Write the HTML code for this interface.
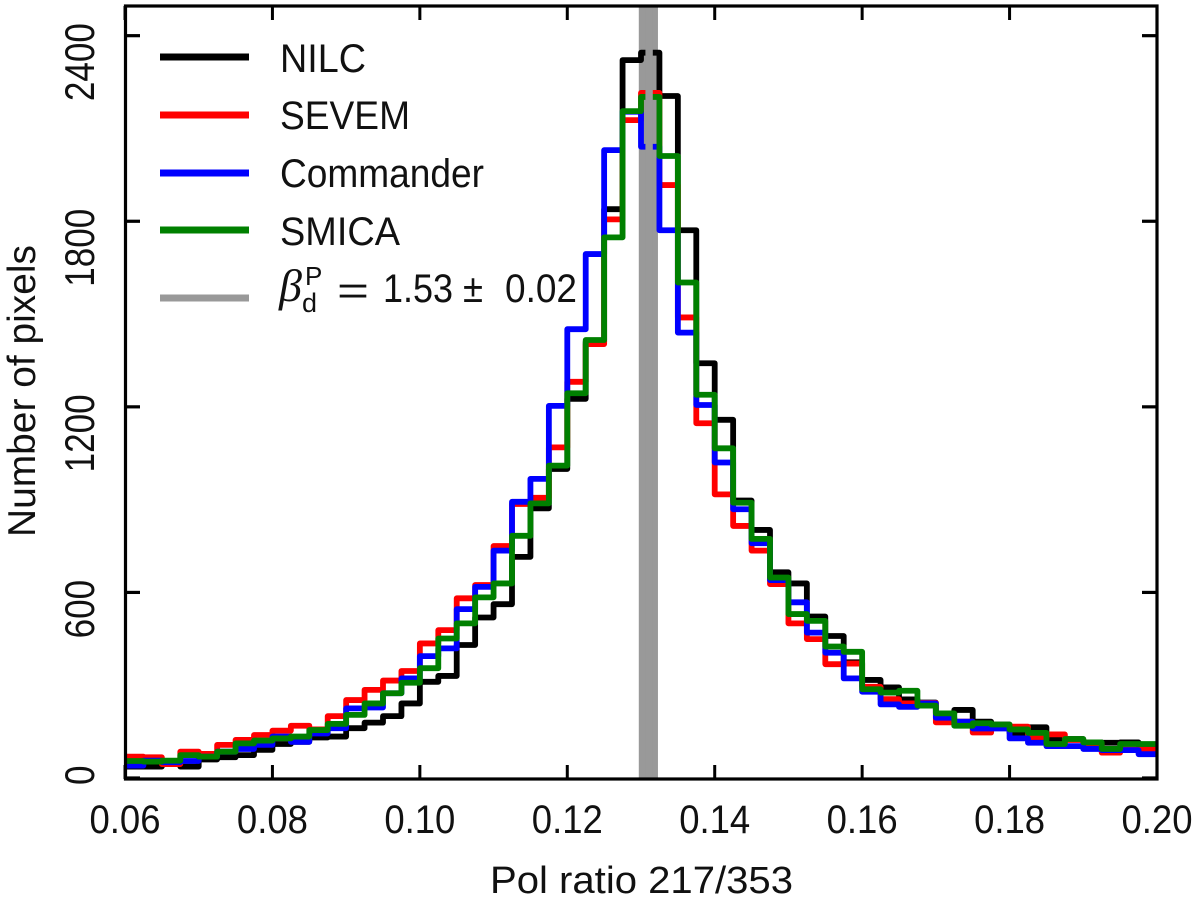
<!DOCTYPE html>
<html lang="en">
<head>
<meta charset="utf-8">
<title>Pol ratio 217/353 histogram</title>
<style>
  html, body { margin: 0; padding: 0; background: #fff; }
  body { width: 1200px; height: 910px; overflow: hidden; }
  svg { display: block; }
  text { font-family: "Liberation Sans", sans-serif; fill: #111; }
</style>
</head>
<body>
<svg id="chart" xmlns="http://www.w3.org/2000/svg" width="1200" height="910" viewBox="0 0 1200 910">
  <defs>
    <clipPath id="plot-clip"><rect x="125" y="6" width="1032" height="773"></rect></clipPath>
  </defs>
  <g id="band-back"></g>
  <g id="series" clip-path="url(#plot-clip)"></g>
  <g id="band-front"></g>
  <g id="axes"></g>
  <text x="490" y="893" font-size="38" textLength="303" lengthAdjust="spacingAndGlyphs">Pol ratio 217/353</text>
  <text transform="translate(35,537) rotate(-90)" font-size="39" textLength="292" lengthAdjust="spacingAndGlyphs">Number of pixels</text>
  <g id="legend"></g>
  <g>
    <text x="279" y="301" font-size="46" font-style="italic" style="font-family:'Liberation Serif',serif">β</text>
    <text x="305" y="285" font-size="26">P</text>
    <text x="302" y="312" font-size="27">d</text>
    <text x="337" y="304" font-size="40" textLength="32" lengthAdjust="spacingAndGlyphs">=</text>
    <text x="383" y="302" font-size="40" textLength="70" lengthAdjust="spacingAndGlyphs">1.53</text>
    <text x="463" y="302" font-size="40" textLength="20" lengthAdjust="spacingAndGlyphs">±</text>
    <text x="505" y="302" font-size="40" textLength="72" lengthAdjust="spacingAndGlyphs">0.02</text>
  </g>
</svg>
<script>
const binStart = 0.06;
const binWidth = 0.0025;
const xTicks = [0.06, 0.08, 0.10, 0.12, 0.14, 0.16, 0.18, 0.20];
const xTickLabels = ['0.06', '0.08', '0.10', '0.12', '0.14', '0.16', '0.18', '0.20'];
const yTicks = [0, 600, 1200, 1800, 2400];
const yTickLabels = ['0', '600', '1200', '1800', '2400'];
const bandOuter = [0.1297, 0.1323];
const bandInner = [0.1306, 0.1316];
const nilc = [37,37,45,37,60,67,74,91,110,117,131,134,161,179,200,241,311,330,430,519,562,715,872,999,1226,1410,1839,2321,2345,2205,1771,1341,1158,897,802,665,629,522,459,374,317,293,254,244,209,220,182,173,146,164,123,126,115,114,115,106];
const sevem = [69,67,45,85,78,107,123,139,153,169,157,200,252,285,315,346,435,478,581,624,750,886,906,1069,1281,1403,1806,2127,2215,1917,1489,1147,917,815,735,627,500,449,368,370,295,255,241,243,180,182,147,166,166,130,141,123,110,82,92,92];
const commander = [40,56,51,55,69,85,94,107,134,117,144,161,225,228,274,322,394,419,546,618,735,893,967,1203,1451,1694,2030,2154,2041,1771,1440,1206,1020,869,759,640,568,470,405,322,279,238,230,241,195,182,160,160,128,114,103,103,94,90,90,77];
const smica = [55,53,56,74,69,85,112,121,128,134,155,175,204,241,274,308,355,451,500,584,629,783,888,1010,1244,1416,1748,2156,2202,2011,1602,1239,1066,890,773,648,530,508,425,408,287,276,282,234,209,169,177,173,157,146,110,126,115,94,110,110];
const seriesNames = ['NILC', 'SEVEM', 'Commander', 'SMICA'];
const seriesColors = ['#000000', '#ff0000', '#0000ff', '#008000'];
const seriesValues = [nilc, sevem, commander, smica];
const legendBandLabel = 'beta';

const NS = 'http://www.w3.org/2000/svg';
const xScale = function (v) { return 125 + (v - 0.06) * (1032 / 0.14); };
const yScale = function (v) { return 778 - v * 0.3093; };

function make(tag, parent, attrs) {
  const el = document.createElementNS(NS, tag);
  for (const k in attrs) { el.setAttribute(k, attrs[k]); }
  parent.appendChild(el);
  return el;
}

const bandBack = document.getElementById('band-back');
const outerRect = make('rect', bandBack, { x: xScale(bandOuter[0]), y: 6, width: xScale(bandOuter[1]) - xScale(bandOuter[0]), height: 773, fill: '#999999' });



const bandFront = document.getElementById('band-front');
const innerRect = make('rect', bandFront, { x: xScale(bandInner[0]), y: 6, width: xScale(bandInner[1]) - xScale(bandInner[0]), height: 773, fill: '#999999' });



const seriesGroup = document.getElementById('series');
seriesValues.forEach(function (vals, s) {
  let d = '';
  vals.forEach(function (v, i) {
    const x0 = xScale(binStart + i * binWidth);
    const x1 = xScale(binStart + (i + 1) * binWidth);
    const y = yScale(v);
    d += (i === 0 ? 'M' : 'L') + x0.toFixed(2) + ' ' + y.toFixed(2) + 'L' + x1.toFixed(2) + ' ' + y.toFixed(2);
  });
  const line = make('path', seriesGroup, { d: d, fill: 'none', stroke: seriesColors[s], 'stroke-width': 5.8, 'stroke-linejoin': 'round', 'stroke-linecap': 'butt' });
  
  
});

const axes = document.getElementById('axes');
const frame = make('rect', axes, { x: 125.5, y: 6, width: 1031.5, height: 773, fill: 'none', stroke: '#000', 'stroke-width': 3.2 });



xTicks.forEach(function (t, i) {
  const x = xScale(t);
  const bottomTick = make('line', axes, { x1: x, x2: x, y1: 779, y2: 765, stroke: '#000', 'stroke-width': 3 });
  
  
  const topTick = make('line', axes, { x1: x, x2: x, y1: 6, y2: 20, stroke: '#000', 'stroke-width': 3 });
  
  
  const label = make('text', axes, { x: x, y: 833, 'font-size': 40, 'text-anchor': 'middle', textLength: 71, lengthAdjust: 'spacingAndGlyphs' });
  
  
  label.textContent = xTickLabels[i];
});

yTicks.forEach(function (t, i) {
  const y = yScale(t);
  const leftTick = make('line', axes, { x1: 125, x2: 140, y1: y, y2: y, stroke: '#000', 'stroke-width': 3.2 });
  
  
  const rightTick = make('line', axes, { x1: 1157, x2: 1142, y1: y, y2: y, stroke: '#000', 'stroke-width': 3.2 });
  
  
  const txt = yTickLabels[i];
  const label = make('text', axes, { transform: 'translate(94,' + (y - 12.5) + ') rotate(-90)', 'font-size': 42, 'text-anchor': 'end', textLength: 19.5 * txt.length, lengthAdjust: 'spacingAndGlyphs' });
  
  
  label.textContent = txt;
});

const legendRows = [57, 115, 173, 230];
const legendBaselines = [72, 129, 187, 245];
const legendWidths = [86, 130, 204, 120];
const legend = document.getElementById('legend');
seriesNames.forEach(function (name, i) {
  const swatch = make('line', legend, { x1: 160, x2: 249, y1: legendRows[i], y2: legendRows[i], stroke: seriesColors[i], 'stroke-width': 7 });
  
  
  const label = make('text', legend, { x: 280, y: legendBaselines[i], 'font-size': 40, textLength: legendWidths[i], lengthAdjust: 'spacingAndGlyphs' });
  
  
  label.textContent = name;
});
const bandSwatch = make('line', legend, { x1: 160, x2: 249, y1: 298, y2: 298, stroke: '#999999', 'stroke-width': 7 });


</script>
</body>
</html>
